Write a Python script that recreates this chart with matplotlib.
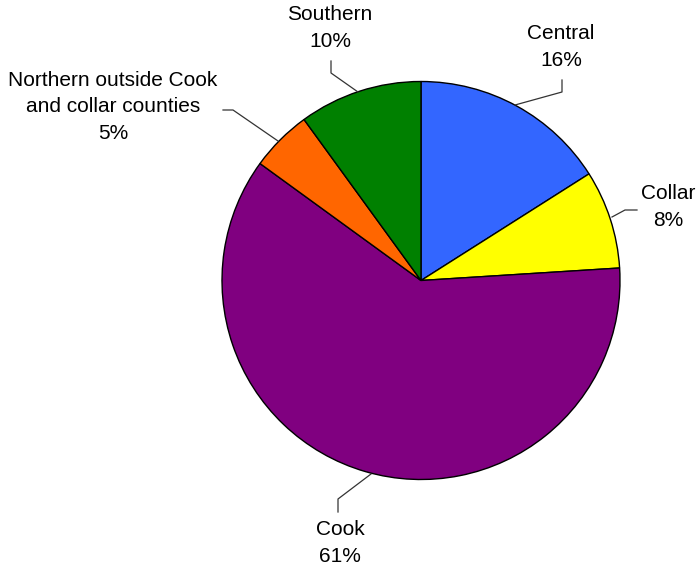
import matplotlib.pyplot as plt

plt.rcParams['font.family'] = ['Liberation Sans', 'DejaVu Sans']

regions = ['Central', 'Collar', 'Cook', 'Northern outside Cook\nand collar counties', 'Southern']
shares = [16, 8, 61, 5, 10]
colors = ['#3366FF', '#FFFF00', '#800080', '#FF6600', '#008000']

W, H = 698, 571

fig = plt.figure(figsize=(W / 100, H / 100), dpi=100)
ax = fig.add_axes([0, 0, 1, 1])

ax.pie(shares, colors=colors, startangle=90, counterclock=False,
       center=(421, H - 280.5), radius=199,
       wedgeprops=dict(edgecolor='black', linewidth=1.0))

# pie() resets the limits, so set them afterwards
ax.set_xlim(0, W)
ax.set_ylim(0, H)
ax.set_aspect('equal')
ax.axis('off')

# label positions and leader lines (pixel coords from top)
label_pos = [(561, 47), (668, 207), (340, 543), (113, 107), (330, 28)]
leaders = [
    [(562, 80), (562, 92), (515, 105)],
    [(637, 210), (625, 210), (612, 217)],
    [(338, 512), (338, 499), (371, 474)],
    [(223, 110), (233, 110), (278, 141)],
    [(331, 61), (331, 73), (358, 92)],
]

for name, val, (x, y), pts in zip(regions, shares, label_pos, leaders):
    ax.text(x, H - y, f'{name}\n{val}%', ha='center', va='center',
            fontsize=15, linespacing=1.5, color='black')
    xs = [p[0] for p in pts]
    ys = [H - p[1] for p in pts]
    ax.plot(xs, ys, color='#333333', linewidth=0.9)

fig.savefig('out.png', dpi=100)
